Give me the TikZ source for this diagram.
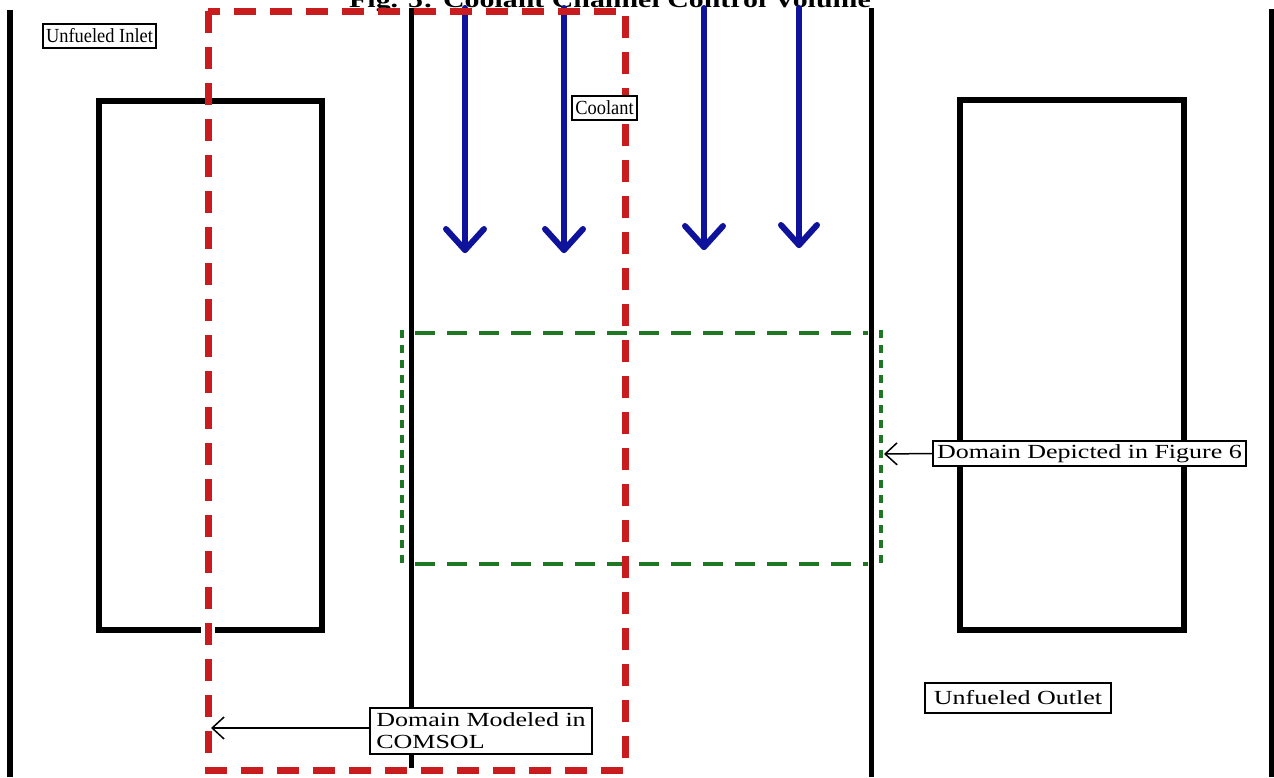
\documentclass[tikz,border=0pt]{standalone}
\usepackage{fontspec}
\setmainfont{Liberation Serif}
\usetikzlibrary{arrows.meta}
\definecolor{dred}{RGB}{200,28,30}
\definecolor{dblue}{RGB}{15,18,155}
\definecolor{dgreen}{RGB}{30,120,35}
\newcommand\stretchtxt[1]{\scalebox{1.3}[1]{#1}}
\newcommand\narrowtxt[1]{\scalebox{0.92}[1]{#1}}
\begin{document}
\begin{tikzpicture}[x=1pt,y=-1pt,
  wall/.style={line width=5.5pt, black},
  fuel/.style={line width=5.5pt, black},
  cv/.style={dred, line width=7pt, dash pattern=on 22pt off 14pt},
  gline/.style={dgreen, line width=3.5pt},
  flow/.style={dblue, line width=6pt, line cap=round, line join=round},
  lab/.style={draw=black, line width=2pt, fill=white, inner xsep=3pt, inner ysep=2pt, minimum height=24pt, font=\fontsize{20}{21}\selectfont},
  wlab/.style={lab, inner xsep=4pt, font=\fontsize{20}{22}\selectfont},
  pointer/.style={line width=1.5pt, -{Straight Barb[length=12pt,width=22pt]}}
]
\useasboundingbox (0,0) rectangle (1274,777);
\fill[white] (0,0) rectangle (1274,777);
\begin{scope}
\clip (0,0) rectangle (1274,777);
% title
\node[anchor=base, font=\bfseries\fontsize{23}{24}\selectfont] (title) at (610,7) {\stretchtxt{Fig. 5: Coolant Channel Control Volume}};
% channel walls
\draw[wall] (10,10) -- (10,777);
\draw[wall] (411.5,8) -- (411.5,768);
\draw[wall] (871.5,8) -- (871.5,777);
\draw[line width=4.5pt] (1271.5,9) -- (1271.5,777);
% fuel blocks
\draw[fuel] (99,101) rectangle (322,630);
\draw[fuel] (960,100) rectangle (1184,630);
\fill[white] (201,624) rectangle (215,637);
% green domain
\draw[gline, dash pattern=on 20pt off 12pt] (415,333) -- (868,333);
\draw[gline, dash pattern=on 20pt off 12pt] (415,564) -- (868,564);
\draw[gline, dash pattern=on 8pt off 7pt] (402,330) -- (402,566);
\draw[gline, dash pattern=on 8pt off 7pt] (881,330) -- (881,566);
% coolant flow arrows
\draw[flow] (465,8) -- (465,250);
\draw[flow] (446,229) -- (465,250) -- (484,229);
\draw[flow] (564,8) -- (564,250);
\draw[flow] (545,229) -- (564,250) -- (583,229);
\draw[flow] (704,8) -- (704,247);
\draw[flow] (685,226) -- (704,247) -- (723,226);
\draw[flow] (799,8) -- (799,245);
\draw[flow] (781,225) -- (799,245) -- (817,225);
% red control volume
\draw[cv] (208,11) rectangle (625,770);
% labels
\node[lab] (inlet) at (99.5,36) {\narrowtxt{Unfueled Inlet}};
\node[lab] (coolant) at (604.5,108) {\narrowtxt{Coolant}};
\node[wlab, minimum height=25pt] (fig6) at (1089.5,453.5) {\stretchtxt{Domain Depicted in Figure 6}};
\node[wlab, minimum height=30pt, inner xsep=9pt] (outlet) at (1018,698) {\stretchtxt{Unfueled Outlet}};
\node[wlab, align=left, inner xsep=6pt, minimum height=46pt] (comsol) at (481,731) {\stretchtxt{Domain Modeled in}\\\stretchtxt{COMSOL}};
\coordinate (g6) at (884,454);
\coordinate (rc) at (211,728);
\draw[pointer] (fig6.west) -- (g6);
\draw[pointer] (comsol.west |- rc) -- (rc);
\end{scope}
\end{tikzpicture}
\end{document}
